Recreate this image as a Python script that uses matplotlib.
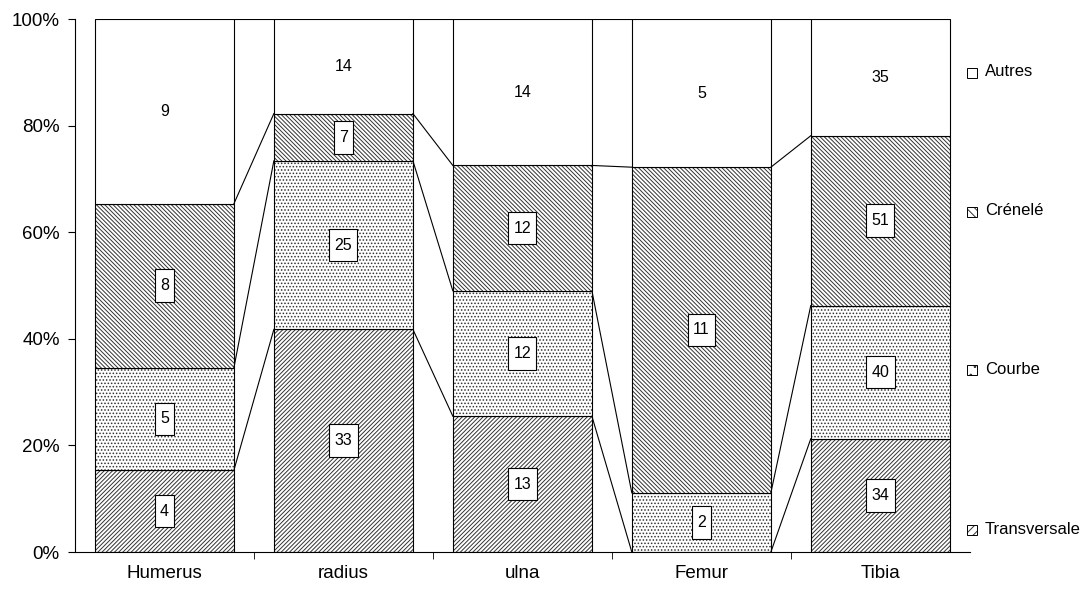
import numpy as np
import matplotlib
matplotlib.use("Agg")
from matplotlib import pyplot as plt
from matplotlib.path import Path
from matplotlib.patches import Rectangle

plt.rcParams['font.family'] = ['Liberation Sans', 'DejaVu Sans']
plt.rcParams['hatch.linewidth'] = 0.7

bones = ['Humerus', 'radius', 'ulna', 'Femur', 'Tibia']
series = ['Transversale', 'Courbe', 'Crénelé', 'Autres']
transversale = [4, 33, 13, 0, 34]
courbe = [5, 25, 12, 2, 40]
crenele = [8, 7, 12, 11, 51]
autres = [9, 14, 14, 5, 35]

counts = np.array([transversale, courbe, crenele, autres], dtype=float)
pct = counts / counts.sum(axis=0) * 100
hatches = ['////////', '.....', '\\\\\\\\\\\\\\\\', '']
hatch_col = (0.2, 0.2, 0.2, 1)


def tallbox(x0, y0, width, height, mutation_size):
    # label box: narrow sides, tall top/bottom like the excel labels
    px = 0.33 * mutation_size
    py = 0.55 * mutation_size
    x0, y0 = x0 - px, y0 - py
    x1, y1 = x0 + width + 2 * px, y0 + height + 2 * py
    return Path([(x0, y0), (x1, y0), (x1, y1), (x0, y1), (x0, y0)], closed=True)


fig = plt.figure(figsize=(10.86, 5.94), dpi=100)
ax = fig.add_axes([0.069, 0.0707, 0.824, 0.897])

x = np.arange(len(bones))
w = 0.777
bottom = np.zeros(len(bones))
for k in range(len(series)):
    bars = ax.bar(x, pct[k], w, bottom=bottom, color='white', edgecolor='black',
                  hatch=hatches[k], linewidth=0.8)
    for b in bars:
        b._hatch_color = hatch_col
    for i in range(len(bones)):
        if counts[k, i] == 0:
            continue
        yc = bottom[i] + pct[k, i] / 2
        if k < 3:
            ax.text(x[i], yc, '%d' % counts[k, i], ha='center', va='center', fontsize=11.5,
                    bbox=dict(boxstyle=tallbox, fc='white', ec='black', lw=0.8))
        else:
            ax.text(x[i], yc, '%d' % counts[k, i], ha='center', va='center', fontsize=11.5)
    bottom = bottom + pct[k]

# series lines between bars
cum = np.cumsum(pct, axis=0)
for lv in cum:
    for i in range(len(bones) - 1):
        ax.plot([x[i] + w / 2, x[i + 1] - w / 2], [lv[i], lv[i + 1]], color='black', lw=0.8)

ax.set_xlim(-0.5, len(bones) - 0.5)
ax.set_ylim(0, 100)
ax.set_yticks(np.arange(0, 101, 20))
ax.set_yticklabels(['%d%%' % v for v in range(0, 101, 20)], fontsize=13.5)
ax.set_xticks(x)
ax.set_xticklabels(bones, fontsize=13.5)
ax.set_xticks(np.arange(0.5, len(bones) - 0.5, 1), minor=True)
ax.tick_params(axis='x', which='major', length=0, pad=9)
ax.tick_params(axis='x', which='minor', length=5, direction='out')
ax.tick_params(axis='y', length=5, direction='out', pad=6)
ax.spines['top'].set_visible(False)
ax.spines['right'].set_visible(False)

# legend, placed by hand like the excel one
leg_y = [530, 370, 212, 73]
for k in range(len(series)):
    yf = 1 - leg_y[k] / 594
    r = Rectangle((967 / 1086, yf - 5 / 594), 10 / 1086, 10 / 594, transform=fig.transFigure,
                  facecolor='white', edgecolor='black', lw=0.7, hatch=hatches[k][:len(hatches[k]) // 2])
    r._hatch_color = hatch_col
    fig.add_artist(r)
    fig.text(985 / 1086, yf + 1 / 594, series[k], fontsize=12, va='center', ha='left')

fig.savefig('out.png', dpi=100)
